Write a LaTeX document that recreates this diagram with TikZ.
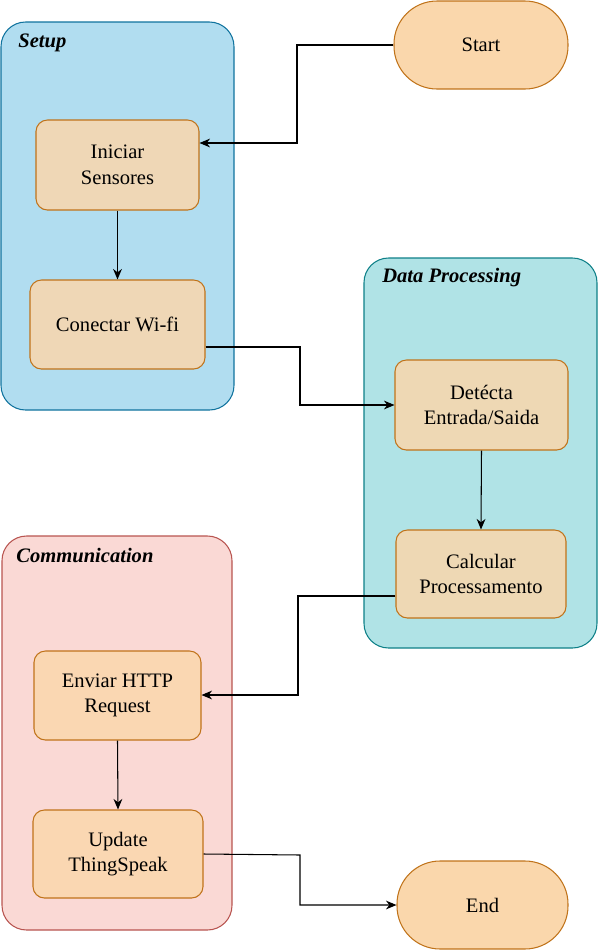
\documentclass[tikz,border=0pt]{standalone}
\usepackage{fontspec}
\setmainfont{Liberation Serif}
\usetikzlibrary{arrows.meta,positioning}
\definecolor{setupfill}{HTML}{B1DDF0}
\definecolor{setupdraw}{HTML}{10739E}
\definecolor{dpfill}{HTML}{B0E3E6}
\definecolor{dpdraw}{HTML}{0E8088}
\definecolor{comfill}{HTML}{FAD9D5}
\definecolor{comdraw}{HTML}{B85450}
\definecolor{boxfill}{HTML}{FAD7AC}
\definecolor{boxdraw}{HTML}{C0731A}
\begin{document}
\begin{tikzpicture}[x=0.02cm,y=-0.02cm,
  txt/.style={font=\fontsize{11.7}{14.6}\selectfont},
  container/.style={rounded corners=14pt, line width=0.6pt},
  procbox/.style={draw=boxdraw, fill=boxfill, fill opacity=0.85, text opacity=1, rounded corners=6.5pt, line width=0.6pt, align=center, inner sep=0pt, txt},
  term/.style={draw=boxdraw, fill=boxfill, rounded corners=24.5pt, line width=0.6pt, align=center, inner sep=0pt, txt},
  title/.style={anchor=west, font=\fontsize{11.7}{14}\selectfont\bfseries\itshape, inner sep=0pt},
  conn/.style={draw=black, line width=0.6pt, -{Stealth[length=6pt,width=5pt]}}
]
\useasboundingbox (0,0) rectangle (598,951);
% containers
\path[container, fill=setupfill, draw=setupdraw] (1,22) rectangle (234,410);
\node[title] (tsetup) at (18,43) {Setup};
\path[container, fill=dpfill, draw=dpdraw] (364,258) rectangle (597,648);
\node[title] (tdp) at (382,278) {Data Processing};
\path[container, fill=comfill, draw=comdraw] (2,536) rectangle (232,930);
\node[title] (tcom) at (16,555) {Communication};
% terminals
\node[term, minimum width=174*0.02cm, minimum height=88*0.02cm] (start) at (481,45) {Start};
\node[term, minimum width=171*0.02cm, minimum height=88*0.02cm] (end) at (482.5,905) {End};
% process boxes
\node[procbox, minimum width=163*0.02cm, minimum height=90*0.02cm] (ini) at (117.5,165) {Iniciar\\Sensores};
\node[procbox, minimum width=175*0.02cm, minimum height=89*0.02cm] (wifi) at (117.5,324.5) {Conectar Wi-fi};
\node[procbox, minimum width=173*0.02cm, minimum height=90*0.02cm] (det) at (481.5,405) {Detécta\\Entrada/Saida};
\node[procbox, minimum width=170*0.02cm, minimum height=88*0.02cm] (calc) at (481,574) {Calcular\\Processamento};
\node[procbox, minimum width=167*0.02cm, minimum height=89*0.02cm] (http) at (117.5,695.5) {Enviar HTTP\\Request};
\node[procbox, minimum width=170*0.02cm, minimum height=88*0.02cm] (ts) at (118,854) {Update\\ThingSpeak};
% connectors
\draw[conn] (start.west) -- (297,45) -- (297,143) -- (ini.east |- 0,143);
\draw[conn] (ini.south) -- (wifi.north);
\draw[conn] (wifi.east |- 0,347) -- (300,347) -- (300,405) -- (det.west);
\draw[conn] (det.south) -- (calc.north);
\draw[conn] (calc.west |- 0,596) -- (298,596) -- (298,695) -- (http.east |- 0,695);
\draw[conn] (http.south) -- (ts.north);
\draw[conn] (ts.east) -- (300,855) -- (300,905) -- (end.west);
\end{tikzpicture}
\end{document}
